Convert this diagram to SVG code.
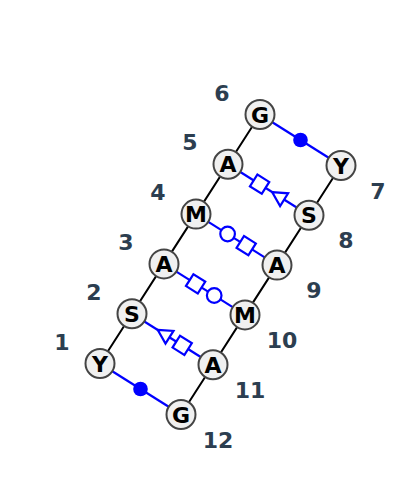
<svg xmlns="http://www.w3.org/2000/svg" width="400" height="488" viewBox="0 0 400 488">
<style>
.bb{stroke:#000;stroke-width:2;fill:none}
.bp{stroke:#0000ff;stroke-width:2.2;fill:none}
.sym{stroke:#0000ff;stroke-width:2.2;fill:#fff}
.dot{fill:#0000ff;stroke:none}
.nc{fill:#f0f0f0;stroke:#444;stroke-width:2}
.nt{font-family:"DejaVu Sans",sans-serif;font-weight:bold;font-size:22px;fill:#000;text-anchor:middle}
.lb{font-family:"DejaVu Sans",sans-serif;font-weight:bold;font-size:22px;fill:#2c3e50;text-anchor:middle}
</style>
<defs>
<rect id="sq" x="-7" y="-7" width="14" height="14" class="sym"/>
<circle id="ci" r="7.3" class="sym"/>
<polygon id="tr" points="-7.5,0 6.5,-7.5 6.5,7.5" class="sym"/>
</defs>
<g id="connectors">
<path class="bb" d="M100,363.5 L132,313.7 L164,263.9 L196,214.1 L228,164.3 L260,114.5"/>
<path class="bb" d="M181,414.5 L213,364.7 L245,314.9 L277,265.1 L309,215.3 L341,165.5"/>
<line class="bp" x1="260" y1="114.5" x2="341" y2="165.5"/>
<line class="bp" x1="228" y1="164.3" x2="309" y2="215.3"/>
<line class="bp" x1="196" y1="214.1" x2="277" y2="265.1"/>
<line class="bp" x1="164" y1="263.9" x2="245" y2="314.9"/>
<line class="bp" x1="132" y1="313.7" x2="213" y2="364.7"/>
<line class="bp" x1="100" y1="363.5" x2="181" y2="414.5"/>
<circle class="dot" cx="300.5" cy="140" r="7.3"/>
<circle class="dot" cx="140.5" cy="389" r="7.3"/>
<use href="#sq" transform="translate(259.6,184.2) rotate(32.2)"/>
<use href="#tr" transform="translate(278.6,196.2) rotate(32.2)"/>
<use href="#ci" transform="translate(227.6,234)"/>
<use href="#sq" transform="translate(246.2,245.7) rotate(32.2)"/>
<use href="#sq" transform="translate(195.6,283.8) rotate(32.2)"/>
<use href="#ci" transform="translate(214.2,295.5)"/>
<use href="#tr" transform="translate(164,333.8) rotate(32.2)"/>
<use href="#sq" transform="translate(182.2,345.3) rotate(32.2)"/>
</g>
<g id="n1"><circle class="nc" cx="100" cy="363.5" r="14.5"/><text class="nt" x="100" y="371.5">Y</text><text class="lb" x="62" y="349.5">1</text></g>
<g id="n2"><circle class="nc" cx="132" cy="313.7" r="14.5"/><text class="nt" x="132" y="321.7">S</text><text class="lb" x="94" y="299.7">2</text></g>
<g id="n3"><circle class="nc" cx="164" cy="263.9" r="14.5"/><text class="nt" x="164" y="271.9">A</text><text class="lb" x="126" y="249.9">3</text></g>
<g id="n4"><circle class="nc" cx="196" cy="214.1" r="14.5"/><text class="nt" x="196" y="222.1">M</text><text class="lb" x="158" y="200.1">4</text></g>
<g id="n5"><circle class="nc" cx="228" cy="164.3" r="14.5"/><text class="nt" x="228" y="172.3">A</text><text class="lb" x="190" y="150.3">5</text></g>
<g id="n6"><circle class="nc" cx="260" cy="114.5" r="14.5"/><text class="nt" x="260" y="122.5">G</text><text class="lb" x="222" y="100.5">6</text></g>
<g id="n7"><circle class="nc" cx="341" cy="165.5" r="14.5"/><text class="nt" x="341" y="173.5">Y</text><text class="lb" x="378" y="198.5">7</text></g>
<g id="n8"><circle class="nc" cx="309" cy="215.3" r="14.5"/><text class="nt" x="309" y="223.3">S</text><text class="lb" x="346" y="248.3">8</text></g>
<g id="n9"><circle class="nc" cx="277" cy="265.1" r="14.5"/><text class="nt" x="277" y="273.1">A</text><text class="lb" x="314" y="298.1">9</text></g>
<g id="n10"><circle class="nc" cx="245" cy="314.9" r="14.5"/><text class="nt" x="245" y="322.9">M</text><text class="lb" x="282" y="347.9">10</text></g>
<g id="n11"><circle class="nc" cx="213" cy="364.7" r="14.5"/><text class="nt" x="213" y="372.7">A</text><text class="lb" x="250" y="397.7">11</text></g>
<g id="n12"><circle class="nc" cx="181" cy="414.5" r="14.5"/><text class="nt" x="181" y="422.5">G</text><text class="lb" x="218" y="447.5">12</text></g>
</svg>
